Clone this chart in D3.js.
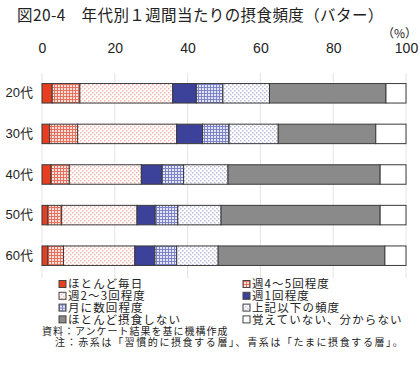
<!DOCTYPE html>
<html>
<head>
<meta charset="utf-8">
<script src="https://cdn.jsdelivr.net/npm/d3@7"></script>
<style>
    body { margin: 0; background: #fff; }
    text { font-family: "Liberation Sans", "Noto Sans CJK JP", sans-serif; fill: #222; }
    .jp { font-family: "Noto Sans CJK JP", sans-serif; }
</style>
</head>
<body>
<div id="chart"></div>
<script>
// Age groups (rows)
let ages = ["20代", "30代", "40代", "50代", "60代"];

// Frequency categories (stack order)
let categories = ["ほとんど毎日", "週4～5回程度", "週2～3回程度", "週1回程度",
    "月に数回程度", "上記以下の頻度", "ほとんど摂食しない", "覚えていない、分からない"];

// Percent shares per age group, same order as categories
let v20 = [2.8, 7.6, 25.5, 6.5, 7.3, 12.8, 32.0, 5.5];
let v30 = [2.1, 7.7, 27.2, 7.1, 7.3, 13.5, 26.8, 8.3];
let v40 = [2.5, 5.0, 19.8, 5.7, 5.9, 12.2, 41.8, 7.1];
let v50 = [1.6, 3.8, 20.7, 5.0, 6.2, 11.9, 43.7, 7.1];
let v60 = [1.6, 4.3, 19.6, 5.5, 6.0, 11.4, 45.8, 5.8];
let values = [v20, v30, v40, v50, v60];

let xTicks = [0, 20, 40, 60, 80, 100];

let fills = ["#e63e1e", "url(#gridRed)", "url(#dotRed)", "#3c4199",
    "url(#gridBlue)", "url(#dotBlue)", "#8a8a8a", "#ffffff"];

let W = 420, H = 376;
let margin = {left: 42, right: 14, top: 73, bottom: 98};

let svg = d3.select("#chart").append("svg")
    .attr("width", W)
    .attr("height", H);

// Patterns
let defs = svg.append("defs");

function gridPattern(id, line, bg) {
    let p = defs.append("pattern").attr("id", id)
        .attr("patternUnits", "userSpaceOnUse")
        .attr("width", 3).attr("height", 3);
    p.append("rect").attr("width", 3).attr("height", 3).attr("fill", bg);
    p.append("rect").attr("width", 3).attr("height", 1).attr("fill", line);
    p.append("rect").attr("width", 1).attr("height", 3).attr("fill", line);
}
function dotPattern(id, dot, bg) {
    let p = defs.append("pattern").attr("id", id)
        .attr("patternUnits", "userSpaceOnUse")
        .attr("width", 4).attr("height", 4);
    p.append("rect").attr("width", 4).attr("height", 4).attr("fill", bg);
    p.append("rect").attr("x", 0).attr("y", 0).attr("width", 1.5).attr("height", 1.5).attr("fill", dot);
    p.append("rect").attr("x", 2).attr("y", 2).attr("width", 1.5).attr("height", 1.5).attr("fill", dot);
}
gridPattern("gridRed", "#e8705f", "#fbe0da");
dotPattern("dotRed", "#f1b8ae", "#ffffff");
gridPattern("gridBlue", "#7d84c8", "#e3e5f5");
dotPattern("dotBlue", "#b9bcdc", "#ffffff");

// Scales
let x = d3.scaleLinear()
    .domain([0, 100])
    .range([margin.left, W - margin.right]);

let y = d3.scaleBand()
    .domain(ages)
    .range([margin.top, H - margin.bottom - 2])
    .paddingInner(0.52)
    .paddingOuter(0.26);

// Title
svg.append("text")
    .attr("class", "jp")
    .attr("x", 17).attr("y", 21)
    .attr("font-size", 15.5)
    .attr("letter-spacing", 0.4)
    .text("図20-4　年代別１週間当たりの摂食頻度（バター）");

// Unit
svg.append("text")
    .attr("class", "jp")
    .attr("x", 417).attr("y", 38)
    .attr("text-anchor", "end")
    .attr("font-size", 12)
    .text("（%）");

// Gridlines
svg.append("g")
    .selectAll("line")
    .data(xTicks)
    .join("line")
    .attr("x1", d => x(d)).attr("x2", d => x(d))
    .attr("y1", margin.top).attr("y2", H - margin.bottom)
    .attr("stroke", "#e4e4e4")
    .attr("stroke-width", 1);

// Top axis labels
let xAxis = d3.axisTop(x).tickValues(xTicks).tickSize(0).tickPadding(0);
let gx = svg.append("g")
    .attr("transform", "translate(0,53)")
    .call(xAxis);
gx.select(".domain").remove();
gx.selectAll("text")
    .attr("font-size", 14)
    .attr("font-family", "Liberation Sans, sans-serif")
    .attr("fill", "#222");

// Row labels
let yAxis = d3.axisLeft(y).tickSize(0).tickPadding(9);
let gy = svg.append("g")
    .attr("transform", "translate(" + margin.left + ",0)")
    .call(yAxis);
gy.select(".domain").remove();
gy.selectAll("text")
    .attr("font-size", 13)
    .attr("font-family", "Noto Sans CJK JP, sans-serif")
    .attr("fill", "#222");

// Stacked bars
let rows = ages.map((a, i) => {
    let acc = 0;
    return values[i].map((v, j) => {
        let seg = {age: a, cat: j, x0: acc, x1: acc + v};
        acc += v;
        return seg;
    });
});

svg.append("g")
    .selectAll("g")
    .data(rows)
    .join("g")
    .selectAll("rect")
    .data(d => d)
    .join("rect")
    .attr("x", d => x(d.x0))
    .attr("y", d => y(d.age))
    .attr("width", d => x(d.x1) - x(d.x0))
    .attr("height", y.bandwidth())
    .attr("fill", d => fills[d.cat])
    .attr("stroke", "#3a3a3a")
    .attr("stroke-width", 1);

// Legend
let legend = svg.append("g");
let items = legend.selectAll("g")
    .data(categories)
    .join("g")
    .attr("transform", (d, i) => "translate(" + (i % 2 === 0 ? 59 : 243) + "," + (284 + Math.floor(i / 2) * 11.8) + ")");

items.append("rect")
    .attr("x", 0).attr("y", -3.5)
    .attr("width", 7).attr("height", 7)
    .attr("fill", (d, i) => fills[i])
    .attr("stroke", "#444")
    .attr("stroke-width", 1);

items.append("text")
    .attr("class", "jp")
    .attr("x", 9).attr("y", 0)
    .attr("dy", "0.36em")
    .attr("font-size", 11.5)
    .attr("letter-spacing", 1.1)
    .text(d => d);

// Notes
svg.append("text")
    .attr("class", "jp")
    .attr("x", 42).attr("y", 331)
    .attr("dy", "0.36em")
    .attr("font-size", 10)
    .attr("letter-spacing", 1)
    .text("資料：アンケート結果を基に機構作成");

svg.append("text")
    .attr("class", "jp")
    .attr("x", 55).attr("y", 342)
    .attr("dy", "0.36em")
    .attr("font-size", 10)
    .attr("letter-spacing", 1.6)
    .text("注：赤系は「習慣的に摂食する層」、青系は「たまに摂食する層」。");
</script>
</body>
</html>
